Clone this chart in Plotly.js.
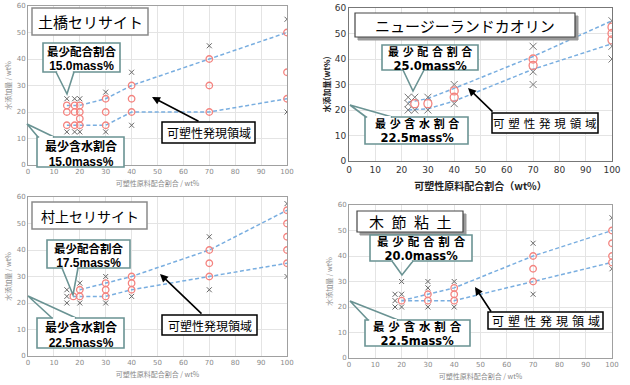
<!DOCTYPE html>
<html><head><meta charset="utf-8">
<script src="https://cdn.plot.ly/plotly-3.0.1.min.js"></script>
<style>html,body{margin:0;padding:0;background:#fff}#chart{width:630px;height:385px}</style>
</head><body><div id="chart"></div>
<script>
// ---- Data ----
// Panel 1: 土橋セリサイト
const p1CircleX = [15,15,15,18,18,18,20,20,20,20,30,30,30,40,40,40,70,70,70,100,100,100];
const p1CircleY = [15,20,22.5,15,20,22.5,15,17.5,20,22.5,15,20,25,20,25,30,20,30,40,25,35,50];
const p1CrossX = [15,15,18,18,20,20,30,30,40,40,70,100,100];
const p1CrossY = [12.5,25,12.5,25,12.5,25,12.5,27.5,15,35,45,20,55];
const p1UpperX = [15,20,30,40,70,100];
const p1UpperY = [22.5,22.5,25,30,40,50];
const p1LowerX = [15,30,40,70,100];
const p1LowerY = [15,15,20,20,25];
// Panel 2: ニュージーランドカオリン
const p2CircleX = [25,30,40,40,70,70,100,100,100];
const p2CircleY = [22.5,22.5,25,27.5,37.5,40,47.5,50,52.5];
const p2CrossX = [22.5,22.5,22.5,25,25,30,30,40,40,70,70,70,100,100,100];
const p2CrossY = [20,22.5,25,20,25,20,25,22.5,30,30,35,45,40,45,55];
const p2UpperX = [22.5,30,40,70,100];
const p2UpperY = [23,24.5,28.5,41,55];
const p2LowerX = [22.5,30,40,70,100];
const p2LowerY = [20,20.5,23.5,36,46];
// Panel 3: 村上セリサイト
const p3CircleX = [17.5,20,20,30,30,30,40,40,40,70,70,70,100,100,100,100,100];
const p3CircleY = [22.5,22.5,25,22.5,25,27.5,25,27.5,30,30,35,40,35,40,45,50,55];
const p3CrossX = [15,15,15,20,20,30,30,40,70,70,100,100];
const p3CrossY = [20,22.5,25,20,27.5,20,30,22.5,25,45,30,57.5];
const p3UpperX = [20,30,40,70,100];
const p3UpperY = [25,27.5,30,40,55];
const p3LowerX = [17.5,30,40,70,100];
const p3LowerY = [22.5,22.5,25,30,35];
// Panel 4: 木節粘土
const p4CircleX = [20,30,30,40,40,40,70,70,70,100,100,100,100];
const p4CircleY = [22.5,22.5,25,22.5,25,27.5,30,35,40,37.5,40,45,50];
const p4CrossX = [17.5,17.5,17.5,20,20,20,30,30,30,40,40,70,70,100,100];
const p4CrossY = [20,22.5,25,20,25,30,20,27.5,30,20,30,25,45,35,55];
const p4UpperX = [20,30,40,70,100];
const p4UpperY = [22.5,25,27.5,40,50];
const p4LowerX = [20,40,70,100];
const p4LowerY = [22.5,22.5,30,37.5];

const titles = ['土橋セリサイト','ニュージーランドカオリン','村上セリサイト','木\u2002節\u2002粘\u2002土'];
const minBlend = ['15.0mass%','25.0mass%','17.5mass%','20.0mass%'];
const minWater = ['15.0mass%','22.5mass%','22.5mass%','22.5mass%'];
const xTitleGray = '可塑性原料配合割合 / wt%';
const yTitleGray = '水添加量 / wt%';
const xTitleBlack = '可塑性原料配合割合（wt%）';
const yTitleBlack = '水添加量(wt%)';

// ---- Styling / layout helpers ----
const W = 630, H = 385;
const X = p => p / W, Y = p => 1 - p / H;
const JP = 'Noto Sans CJK JP, Noto Sans, sans-serif';
const CIRC = '#f4837f', CROSS = '#666', LINE = '#79aee0', TEAL = '#6a9393';

const traces = [];
function panel(n, cx, cy, kx, ky, ux, uy, lx, ly, big) {
  const xa = 'x' + (n === 1 ? '' : n), ya = 'y' + (n === 1 ? '' : n);
  const ls = {color: LINE, width: 1.5, dash: '4px,2.5px'};
  traces.push({type:'scatter', mode:'lines', x:ux, y:uy, xaxis:xa, yaxis:ya, line:ls, hoverinfo:'skip'});
  traces.push({type:'scatter', mode:'lines', x:lx, y:ly, xaxis:xa, yaxis:ya, line:ls, hoverinfo:'skip'});
  traces.push({type:'scatter', mode:'markers', x:kx, y:ky, xaxis:xa, yaxis:ya,
    marker:{symbol:'x-thin-open', size: big ? 7 : 5, color: big ? '#777' : CROSS, line:{width:1, color: big ? '#777' : CROSS}}});
  traces.push({type:'scatter', mode:'markers', x:cx, y:cy, xaxis:xa, yaxis:ya,
    marker:{symbol:'circle-open', size: big ? 8 : 6.5, color:CIRC, line:{width:1.3, color:CIRC}}});
}
panel(1, p1CircleX, p1CircleY, p1CrossX, p1CrossY, p1UpperX, p1UpperY, p1LowerX, p1LowerY, false);
panel(2, p2CircleX, p2CircleY, p2CrossX, p2CrossY, p2UpperX, p2UpperY, p2LowerX, p2LowerY, true);
panel(3, p3CircleX, p3CircleY, p3CrossX, p3CrossY, p3UpperX, p3UpperY, p3LowerX, p3LowerY, false);
panel(4, p4CircleX, p4CircleY, p4CrossX, p4CrossY, p4UpperX, p4UpperY, p4LowerX, p4LowerY, false);

function axisX(d, anchor, black) {
  return {domain:[X(d[0]), X(d[1])], anchor, range:[0,100], dtick:10, showgrid:true, gridcolor:'#e4e4e4',
    showline:true, mirror:true, linecolor: black ? '#777' : '#a0a0a0', linewidth:1, zeroline:false, ticks:'',
    tickfont: black ? {family:'DejaVu Sans', size:9, color:'#333'} : {family:'DejaVu Sans', size:7, color:'#8a8a8a'},
    title: black ? {text:xTitleBlack, font:{family:JP, size:10, color:'#222', weight:'bold'}, standoff:9}
                 : {text:xTitleGray, font:{family:JP, size:7, color:'#8a8a8a'}, standoff:5}};
}
function axisY(d, anchor, black) {
  return {domain:[Y(d[1]), Y(d[0])], anchor, range:[0,60], dtick:10, showgrid:true, gridcolor:'#e4e4e4',
    showline:true, mirror:true, linecolor: black ? '#777' : '#a0a0a0', linewidth:1, zeroline:false, ticks:'',
    tickfont: black ? {family:'DejaVu Sans', size:9, color:'#333'} : {family:'DejaVu Sans', size:7, color:'#8a8a8a'},
    title: black ? {text:yTitleBlack, font:{family:JP, size:8, color:'#222', weight:'bold'}, standoff:2}
                 : {text:yTitleGray, font:{family:JP, size:7, color:'#8a8a8a'}, standoff:4}};
}

const ann = [], shapes = [];
function txt(x, y, text, font) {
  ann.push({xref:'paper', yref:'paper', x:X(x), y:Y(y), text, showarrow:false, xanchor:'center', yanchor:'middle', font});
}
function rect(x0, y0, x1, y1, color, width, fill) {
  shapes.push({type:'rect', xref:'paper', yref:'paper', x0:X(x0), x1:X(x1), y0:Y(y1), y1:Y(y0),
    line:{color, width}, fillcolor:fill});
}
function path(pts, color, width) {
  const d = pts.map((p, i) => (i ? 'L' : 'M') + X(p[0]) + ',' + Y(p[1])).join(' ');
  shapes.push({type:'path', xref:'paper', yref:'paper', path:d, line:{color, width}});
}
function arrow(tx, ty, sx, sy) {
  ann.push({xref:'paper', yref:'paper', x:X(tx), y:Y(ty), ax:sx - tx, ay:sy - ty, text:'', showarrow:true,
    arrowhead:2, arrowsize:1, arrowwidth:1.6, arrowcolor:'#000'});
}
// one two-line text per callout: line 1 in Japanese, line 2 the percentage
function callout(box, base, tip, line1, line2, s1, fam2, s2, gap, cy) {
  rect(box[0], box[1], box[2], box[3], TEAL, 1.6, '#fff');
  path([[base[0], base[2]], tip, [base[1], base[2]]], TEAL, 1.6);
  path([[base[0] + 1.2, base[2]], [base[1] - 1.2, base[2]]], '#fff', 2);
  const cx = (box[0] + box[2]) / 2;
  const text = '<span style="font-size:' + s1 + 'px">' + line1 + '</span><br>' +
               '<span style="font-family:' + fam2 + ';font-size:' + s2 + 'px">' + line2 + '</span>';
  txt(cx, cy, text, {family:JP, size: gap / 1.3, color:'#000', weight:'bold'});
}
const sp = s => s.split('').join('\u2004');

// Panel 1 annotations
rect(32, 8, 148, 35, '#8a8a8a', 1.5, '#fff');
txt(90, 21.5, titles[0], {family:JP, size:15, color:'#000'});
callout([43, 43, 120, 72], [56, 74, 72], [67, 94], '最少配合割合', minBlend[0], 11.5, 'Liberation Sans', 12, 14, 57.5);
callout([37, 137, 124, 167], [38, 54, 137], [27, 124], '最少含水割合', minWater[0], 12, 'Liberation Sans', 12, 14.5, 152.5);
rect(162, 122, 255, 143, '#000', 1.5, '#fff');
txt(208.5, 132.5, '可塑性発現領域', {family:JP, size:12, color:'#000'});
arrow(152, 97, 200, 122);

// Panel 2 annotations
rect(358, 16, 578, 40, '#9a9a9a', 1, '#9a9a9a');
rect(355, 13, 575, 37, '#444', 1.2, '#fff');
txt(465, 25, titles[1], {family:JP, size:15, color:'#000'});
callout([382, 45, 478, 70], [403, 424, 70], [413, 91], sp('最少配合割合'), minBlend[1], 11, 'DejaVu Sans', 11.5, 13.5, 57.5);
callout([365, 117, 468, 144], [366, 392, 117], [350, 105], sp('最少含水割合'), minWater[1], 11, 'DejaVu Sans', 11.5, 13.5, 130.5);
rect(492, 113, 598, 133, '#000', 1.5, '#fff');
txt(545, 123, sp('可塑性発現領域'), {family:JP, size:11.5, color:'#000'});
arrow(468, 88, 494, 113);

// Panel 3 annotations
rect(32, 202, 147, 229, '#8a8a8a', 1.5, '#fff');
txt(89.5, 215.5, titles[2], {family:JP, size:14, color:'#000'});
callout([47, 240, 130, 268], [62, 78, 268], [73, 295], '最少配合割合', minBlend[2], 11.5, 'Liberation Sans', 12, 14, 254.5);
callout([37, 318, 124, 348], [52, 76, 318], [28, 296], '最少含水割合', minWater[2], 12, 'Liberation Sans', 12, 14.5, 333.5);
rect(162, 315, 257, 335, '#000', 1.5, '#fff');
txt(209.5, 325, '可塑性発現領域', {family:JP, size:12, color:'#000'});
arrow(160, 274, 203, 315);

// Panel 4 annotations
rect(360, 214, 466, 235, '#9a9a9a', 1, '#9a9a9a');
rect(357, 211, 463, 232, '#444', 1.2, '#fff');
txt(410, 221.5, titles[3], {family:JP, size:15, color:'#000'});
callout([370, 235, 472, 261], [392, 413, 261], [402, 275], sp('最少配合割合'), minBlend[3], 11.5, 'DejaVu Sans', 11.5, 13.5, 248);
callout([365, 320, 470, 346], [368, 398, 320], [350, 301], sp('最少含水割合'), minWater[3], 11.5, 'DejaVu Sans', 11.5, 13.5, 333);
rect(488, 312, 603, 329, '#000', 1.5, '#fff');
txt(545.5, 320.5, sp('可塑性発現領域'), {family:JP, size:12, color:'#000'});
arrow(475, 287, 492, 313);

const layout = {
  width: W, height: H, margin:{l:0, r:0, t:0, b:0}, showlegend:false,
  paper_bgcolor:'#fff', plot_bgcolor:'#fff',
  xaxis: axisX([28, 287], 'y', false), yaxis: axisY([6, 165], 'x', false),
  xaxis2: axisX([349, 612], 'y2', true), yaxis2: axisY([8, 161], 'x2', true),
  xaxis3: axisX([28, 287], 'y3', false), yaxis3: axisY([197, 356], 'x3', false),
  xaxis4: axisX([349, 612], 'y4', false), yaxis4: axisY([205, 358], 'x4', false),
  annotations: ann, shapes: shapes
};
Plotly.newPlot('chart', traces, layout, {staticPlot:true, displayModeBar:false});
</script></body></html>
